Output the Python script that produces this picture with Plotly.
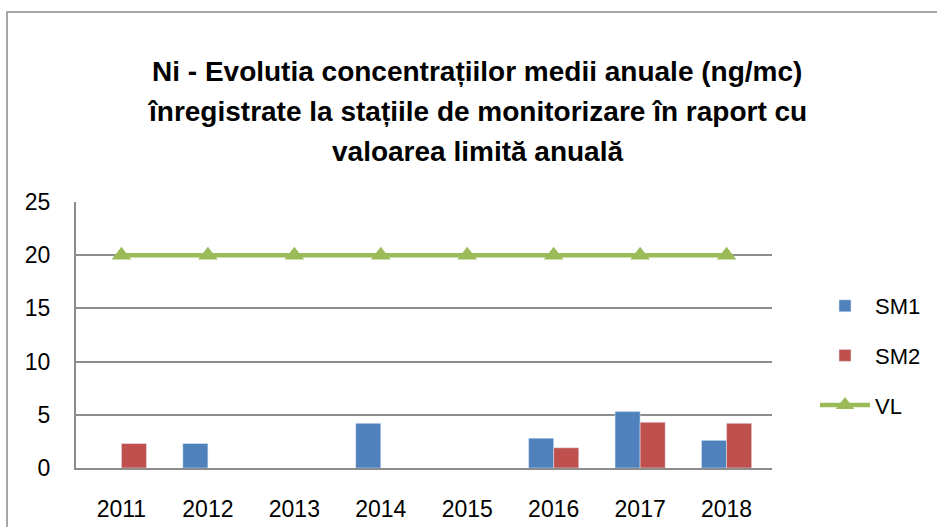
import plotly.graph_objects as go

years = ["2011", "2012", "2013", "2014", "2015", "2016", "2017", "2018"]
sm1 = [None, 2.3, None, 4.2, None, 2.8, 5.3, 2.6]
sm2 = [2.3, None, None, None, None, 1.9, 4.3, 4.2]
vl = [20, 20, 20, 20, 20, 20, 20, 20]
title_lines = [
    "Ni - Evolutia concentrațiilor medii anuale (ng/mc)",
    "înregistrate la stațiile de monitorizare în raport cu",
    "valoarea limită anuală",
]

W, H = 937, 527
L, R, T, B = 76, 165, 202, 59
pw, ph = W - L - R, H - T - B

def px_x(p):
    return (p - L) / pw

def px_y(p):
    return (H - B - p) / ph

FONT = "Liberation Sans, Arial, sans-serif"

fig = go.Figure()
fig.add_trace(go.Bar(x=years, y=sm1, name="SM1", marker_color="#4F81BD",
                     legendgroup="a"))
fig.add_trace(go.Bar(x=years, y=sm2, name="SM2", marker_color="#C0504D",
                     legendgroup="b"))
fig.add_trace(go.Scatter(x=years, y=vl, name="VL", mode="lines+markers",
                         line=dict(color="#9BBB59", width=4.5),
                         marker=dict(symbol="triangle-up", size=17, color="#9BBB59"),
                         legendgroup="c"))

for i, (txt, py) in enumerate(zip(title_lines, [71, 111, 151])):
    fig.add_annotation(text="<b>" + txt + "</b>", x=px_x(477), y=px_y(py),
                       xref="paper", yref="paper", xanchor="center", yanchor="middle",
                       showarrow=False, font=dict(family=FONT, size=28, color="#000000"))

fig.add_shape(type="rect", xref="paper", yref="paper",
              x0=px_x(7), x1=px_x(1100), y0=px_y(900), y1=px_y(12),
              line=dict(color="#A6A6A6", width=2), fillcolor="rgba(0,0,0,0)", layer="below")

fig.update_layout(
    width=W, height=H,
    margin=dict(l=L, r=R, t=T, b=B, autoexpand=False),
    paper_bgcolor="white", plot_bgcolor="white",
    barmode="group", bargap=0.42, bargroupgap=0,
    showlegend=True,
    legend=dict(x=px_x(815), y=px_y(285), xanchor="left", yanchor="top",
                font=dict(family=FONT, size=22, color="#000000"),
                traceorder="grouped", tracegroupgap=18, itemwidth=50,
                bgcolor="rgba(0,0,0,0)"),
    font=dict(family=FONT, color="#000000"),
)
fig.update_xaxes(type="category", showline=True, linecolor="#8C8C8C", linewidth=2,
                 showgrid=False, ticks="", tickfont=dict(family=FONT, size=23),
                 ticklabelstandoff=19, automargin=False)
fig.update_yaxes(range=[0, 25], dtick=5, showline=True, linecolor="#8C8C8C", linewidth=2,
                 showgrid=True, gridcolor="#8C8C8C", gridwidth=2, zeroline=False,
                 ticks="", tickfont=dict(family=FONT, size=23), ticklabelstandoff=19,
                 automargin=False)

fig.write_html("out.html", config={"displayModeBar": False},
               post_script="document.body.style.margin='0';")
